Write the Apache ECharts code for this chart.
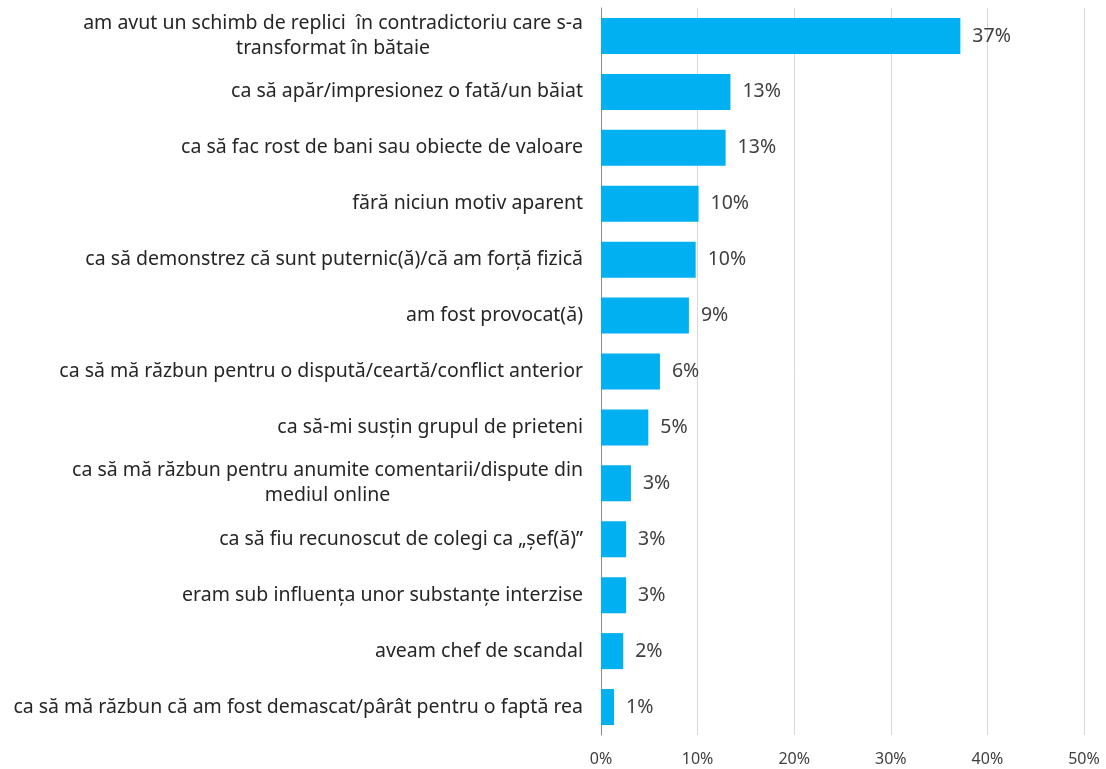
<!DOCTYPE html>
<html>
<head>
<meta charset="utf-8">
<script src="https://cdn.jsdelivr.net/npm/echarts@6/dist/echarts.min.js"></script>
<style>
  html, body { margin: 0; padding: 0; background: #fff; }
  #chart { width: 1106px; height: 769px; }
</style>
</head>
<body>
<div id="chart"></div>
<script>
const categories = [
  'am avut un schimb de replici  în contradictoriu care s-a\ntransformat în bătaie',
  'ca să apăr/impresionez o fată/un băiat',
  'ca să fac rost de bani sau obiecte de valoare',
  'fără niciun motiv aparent',
  'ca să demonstrez că sunt puternic(ă)/că am forță fizică',
  'am fost provocat(ă)',
  'ca să mă răzbun pentru o dispută/ceartă/conflict anterior',
  'ca să-mi susțin grupul de prieteni',
  'ca să mă răzbun pentru anumite comentarii/dispute din\nmediul online',
  'ca să fiu recunoscut de colegi ca „șef(ă)”',
  'eram sub influența unor substanțe interzise',
  'aveam chef de scandal',
  'ca să mă răzbun că am fost demascat/pârât pentru o faptă rea'
];
const values = [37.2, 13.4, 12.9, 10.1, 9.8, 9.1, 6.1, 4.9, 3.1, 2.6, 2.6, 2.3, 1.35];
const xTicks = [0, 10, 20, 30, 40, 50];

const font = 'Noto Sans';
const chart = echarts.init(document.getElementById('chart'));
chart.setOption({
  animation: false,
  grid: { left: 601, right: 22, top: 8, bottom: 34 },
  xAxis: {
    type: 'value',
    min: xTicks[0],
    max: xTicks[xTicks.length - 1],
    interval: 10,
    axisLine: { show: false },
    axisTick: { show: false },
    splitLine: { lineStyle: { color: '#d9d9d9', width: 1 } },
    axisLabel: {
      formatter: '{value}%',
      color: '#404040',
      fontFamily: font,
      fontSize: 16,
      margin: 16
    }
  },
  yAxis: {
    type: 'category',
    inverse: true,
    data: categories,
    axisLine: { lineStyle: { color: '#8c8c8c' } },
    axisTick: { length: 5, lineStyle: { color: '#8c8c8c' } },
    axisLabel: {
      margin: 18,
      color: '#262626',
      fontFamily: font,
      fontSize: 19.5,
      lineHeight: 25,
      formatter: v => v.split('\n').map(s => '{c|' + s + '}').join('\n'),
      rich: {
        c: { align: 'center', color: '#262626', fontFamily: font, fontSize: 19.5, lineHeight: 25 }
      }
    }
  },
  series: [{
    type: 'bar',
    data: values,
    barWidth: 36,
    itemStyle: { color: '#00b0f0' },
    label: {
      show: true,
      position: 'right',
      distance: 12,
      color: '#404040',
      fontFamily: font,
      fontSize: 19.5,
      formatter: p => Math.round(p.value) + '%'
    }
  }]
});
</script>
</body>
</html>
